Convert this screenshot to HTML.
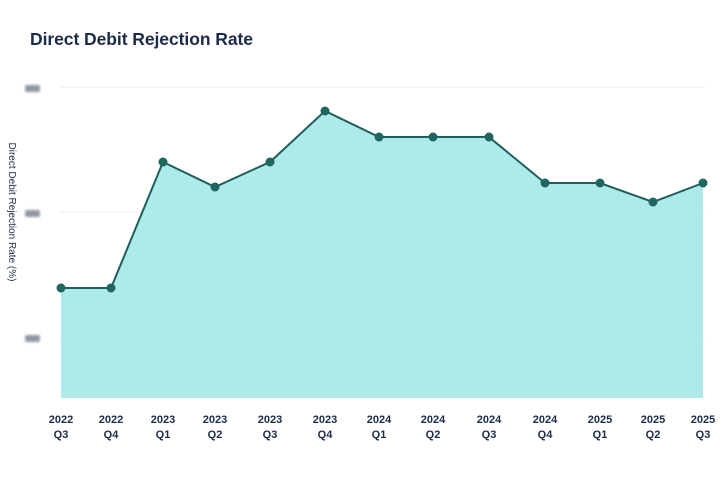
<!DOCTYPE html>
<html><head><style>
body{margin:0;background:#fff;width:723px;height:488px;overflow:hidden;font-family:"Liberation Sans",sans-serif}
</style></head><body>
<svg width="723" height="488" xmlns="http://www.w3.org/2000/svg">
<defs><filter id="b"><feGaussianBlur stdDeviation="1.2"/></filter></defs>
<text x="30" y="45" font-size="17.5" font-weight="bold" fill="#1c2b4a" font-family="Liberation Sans, sans-serif" textLength="223">Direct Debit Rejection Rate</text>
<g stroke="#eeeeee" stroke-width="1">
<line x1="60" y1="87" x2="705" y2="87"/><line x1="60" y1="212" x2="705" y2="212"/><line x1="60" y1="337" x2="705" y2="337"/>
</g>
<g fill="#8f97a2" filter="url(#b)">
<rect x="25" y="85" width="15" height="7" rx="2"/><rect x="25" y="210" width="15" height="7" rx="2"/><rect x="25" y="335" width="15" height="7" rx="2"/>
</g>
<text transform="translate(9,212) rotate(90)" text-anchor="middle" font-size="10" fill="#1c2b4a">Direct Debit  Rejection Rate (%)</text>
<polygon fill="#aeeaea" points="61,398 61,288 111,288 163,162 215,187 270,162 325,111 379,137 433,137 489,137 545,183 600,183 653,202 703,183 703,398"/>
<polyline fill="none" stroke="#1f5f5b" stroke-width="2" points="61,288 111,288 163,162 215,187 270,162 325,111 379,137 433,137 489,137 545,183 600,183 653,202 703,183"/>
<g fill="#1f665f">
<circle cx="61" cy="288" r="4.5"/><circle cx="111" cy="288" r="4.5"/><circle cx="163" cy="162" r="4.5"/><circle cx="215" cy="187" r="4.5"/><circle cx="270" cy="162" r="4.5"/><circle cx="325" cy="111" r="4.5"/><circle cx="379" cy="137" r="4.5"/><circle cx="433" cy="137" r="4.5"/><circle cx="489" cy="137" r="4.5"/><circle cx="545" cy="183" r="4.5"/><circle cx="600" cy="183" r="4.5"/><circle cx="653" cy="202" r="4.5"/><circle cx="703" cy="183" r="4.5"/>
</g>
<g font-size="11" font-weight="bold" fill="#1c2b4a" text-anchor="middle">
<text x="61" y="423">2022</text><text x="61" y="438">Q3</text>
<text x="111" y="423">2022</text><text x="111" y="438">Q4</text>
<text x="163" y="423">2023</text><text x="163" y="438">Q1</text>
<text x="215" y="423">2023</text><text x="215" y="438">Q2</text>
<text x="270" y="423">2023</text><text x="270" y="438">Q3</text>
<text x="325" y="423">2023</text><text x="325" y="438">Q4</text>
<text x="379" y="423">2024</text><text x="379" y="438">Q1</text>
<text x="433" y="423">2024</text><text x="433" y="438">Q2</text>
<text x="489" y="423">2024</text><text x="489" y="438">Q3</text>
<text x="545" y="423">2024</text><text x="545" y="438">Q4</text>
<text x="600" y="423">2025</text><text x="600" y="438">Q1</text>
<text x="653" y="423">2025</text><text x="653" y="438">Q2</text>
<text x="703" y="423">2025</text><text x="703" y="438">Q3</text>
</g>
</svg>
</body></html>
